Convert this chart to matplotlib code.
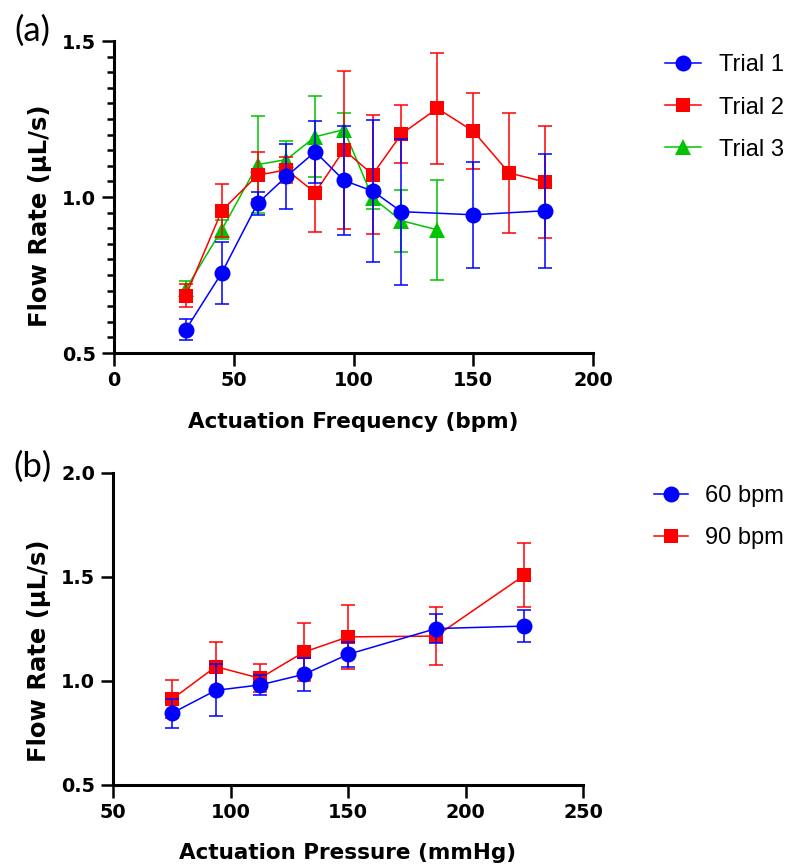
import matplotlib
matplotlib.use('Agg')
import matplotlib.pyplot as plt
from matplotlib.ticker import MultipleLocator, FormatStrFormatter

# (a) flow rate vs actuation frequency
freq1 = [30, 45, 60, 72, 84, 96, 108, 120, 150, 180]
trial1 = [0.575, 0.757, 0.980, 1.066, 1.145, 1.053, 1.019, 0.953, 0.943, 0.956]
trial1_err = [0.034, 0.10, 0.037, 0.103, 0.10, 0.174, 0.227, 0.234, 0.17, 0.183]

freq2 = [30, 45, 60, 72, 84, 96, 108, 120, 135, 150, 165, 180]
trial2 = [0.684, 0.956, 1.070, 1.087, 1.014, 1.151, 1.072, 1.202, 1.284, 1.211, 1.077, 1.048]
trial2_err = [0.038, 0.085, 0.075, 0.041, 0.125, 0.253, 0.19, 0.093, 0.177, 0.122, 0.193, 0.178]

freq3 = [30, 45, 60, 72, 84, 96, 108, 120, 135]
trial3 = [0.705, 0.895, 1.104, 1.120, 1.193, 1.216, 0.997, 0.924, 0.895]
trial3_err = [0.025, 0.03, 0.155, 0.058, 0.13, 0.052, 0.035, 0.10, 0.16]

# (b) flow rate vs actuation pressure
pressure = [75, 93.75, 112.5, 131.25, 150, 187.5, 225]
bpm60 = [0.845, 0.955, 0.981, 1.032, 1.128, 1.252, 1.264]
bpm60_err = [0.07, 0.125, 0.05, 0.08, 0.06, 0.068, 0.077]
bpm90 = [0.912, 1.069, 1.013, 1.139, 1.212, 1.216, 1.508]
bpm90_err = [0.091, 0.12, 0.068, 0.14, 0.155, 0.14, 0.153]

BLUE, RED, GREEN = '#0000ff', '#ff0000', '#00c400'
BOLD = 'DejaVu Sans'
LEG = 'Liberation Sans'


def draw_series(ax, x, y, err, color, marker, ms, label, z):
    ax.errorbar(x, y, yerr=err, fmt='none', ecolor=color, elinewidth=1.1,
                capsize=4.8, capthick=1.1, zorder=z)
    line, = ax.plot(x, y, color=color, lw=1.1, marker=marker, ms=ms,
                    markeredgewidth=0, label=label, zorder=z + 0.5)
    return line


def style_axes(ax):
    for side in ['top', 'right']:
        ax.spines[side].set_visible(False)
    for side in ['left', 'bottom']:
        ax.spines[side].set_linewidth(2.2)
    ax.tick_params(which='major', direction='out', length=9, width=1.8, pad=4)
    ax.tick_params(which='minor', direction='out', length=5, width=1.8)
    for lab in ax.get_xticklabels() + ax.get_yticklabels():
        lab.set_fontfamily(BOLD)
        lab.set_fontweight('bold')
        lab.set_fontsize(13.8)
    ax.yaxis.set_major_formatter(FormatStrFormatter('%.1f'))


fig = plt.figure(figsize=(7.96, 8.65), dpi=100)

# ---- panel (a)
ax1 = fig.add_axes([0.1432, 0.5919, 0.6018, 0.3607])
h3 = draw_series(ax1, freq3, trial3, trial3_err, GREEN, '^', 11.5, 'Trial 3', 2)
h2 = draw_series(ax1, freq2, trial2, trial2_err, RED, 's', 10.5, 'Trial 2', 3)
h1 = draw_series(ax1, freq1, trial1, trial1_err, BLUE, 'o', 11.5, 'Trial 1', 4)
ax1.set_xlim(0, 200)
ax1.set_ylim(0.5, 1.5)
ax1.xaxis.set_major_locator(MultipleLocator(50))
ax1.yaxis.set_major_locator(MultipleLocator(0.5))
ax1.yaxis.set_minor_locator(MultipleLocator(0.05))
style_axes(ax1)
ax1.set_xlabel('Actuation Frequency (bpm)', fontfamily=BOLD, fontweight='bold', fontsize=15.5)
ax1.set_ylabel('Flow Rate (µL/s)', fontfamily=BOLD, fontweight='bold', fontsize=17.5)
ax1.xaxis.set_label_coords(0.5, -0.188)
ax1.yaxis.set_label_coords(-0.13, 0.44)
ax1.legend(handles=[h1, h2, h3], loc='upper left', bbox_to_anchor=(0.835, 0.937),
           bbox_transform=fig.transFigure, frameon=False, borderpad=0, borderaxespad=0,
           handlelength=1.55, handletextpad=0.75, labelspacing=0.85,
           prop={'family': LEG, 'size': 17})
fig.text(0.041, 0.964, '(a)', fontfamily='Lato', fontsize=25, ha='center', va='center')

# ---- panel (b)
ax2 = fig.add_axes([0.142, 0.0925, 0.5904, 0.3607])
g2 = draw_series(ax2, pressure, bpm90, bpm90_err, RED, 's', 10.5, '90 bpm', 3)
g1 = draw_series(ax2, pressure, bpm60, bpm60_err, BLUE, 'o', 11.5, '60 bpm', 4)
ax2.set_xlim(50, 250)
ax2.set_ylim(0.5, 2.0)
ax2.xaxis.set_major_locator(MultipleLocator(50))
ax2.yaxis.set_major_locator(MultipleLocator(0.5))
style_axes(ax2)
ax2.set_xlabel('Actuation Pressure (mmHg)', fontfamily=BOLD, fontweight='bold', fontsize=15.5)
ax2.set_ylabel('Flow Rate (µL/s)', fontfamily=BOLD, fontweight='bold', fontsize=17.5)
ax2.xaxis.set_label_coords(0.5, -0.185)
ax2.yaxis.set_label_coords(-0.132, 0.43)
ax2.legend(handles=[g1, g2], loc='upper left', bbox_to_anchor=(0.821, 0.4395),
           bbox_transform=fig.transFigure, frameon=False, borderpad=0, borderaxespad=0,
           handlelength=1.45, handletextpad=0.75, labelspacing=0.85,
           prop={'family': LEG, 'size': 17})
fig.text(0.041, 0.46, '(b)', fontfamily='Lato', fontsize=25, ha='center', va='center')

fig.savefig('out.png', dpi=100)
